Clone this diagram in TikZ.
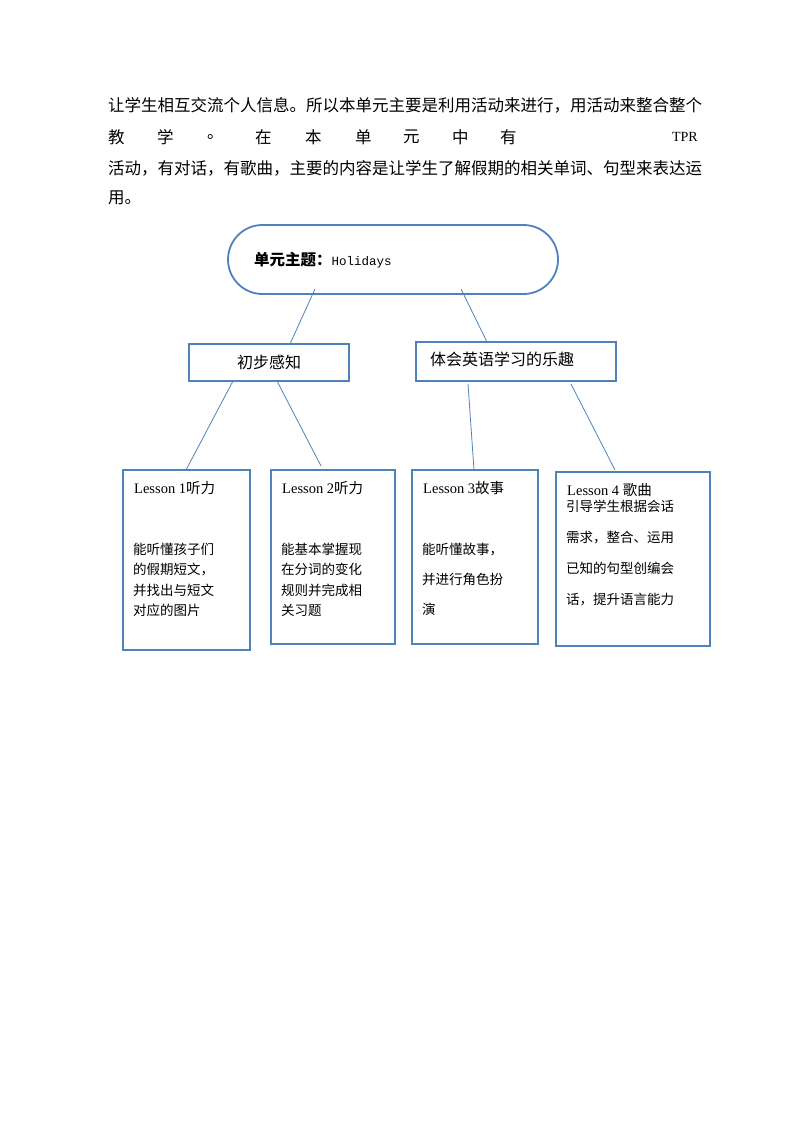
\documentclass[tikz,border=0pt]{standalone}
\usepackage{fontspec}
\setmainfont{Liberation Serif}
\newfontfamily\cjk{Noto Sans CJK SC}
\definecolor{sb}{RGB}{79,129,189}
\begin{document}
\begin{tikzpicture}[x=1pt,y=-1pt,
  bx/.style={draw=sb,line width=1.8pt},
  ln/.style={draw=sb,line width=0.8pt},
  tx/.style={anchor=west,inner sep=0pt,font=\fontsize{16.5}{18}\selectfont\cjk},
  sm/.style={anchor=north west,inner sep=0pt,align=left}]
\useasboundingbox (0,0) rectangle (794,1123);
\node[tx] (p1) at (108,105) {让学生相互交流个人信息。所以本单元主要是利用活动来进行，用活动来整合整个};
\foreach \c/\x [count=\i] in {教/108,学/157,。/207,在/255,本/305,单/355,元/403,中/452,有/500}
  \node[tx] (w\i) at (\x,137) {\c};
\node[anchor=east,inner sep=0pt,font=\fontsize{14}{16}\selectfont] (tpr) at (698,137) {TPR};
\node[tx] (p3) at (108,168) {活动，有对话，有歌曲，主要的内容是让学生了解假期的相关单词、句型来表达运};
\node[tx] (p4) at (108,198) {用。};
\draw[bx,rounded corners=34.5pt] (228,225) rectangle (558,294);
\node[anchor=west,inner sep=0pt] (top) at (254,260) {{\cjk\bfseries\fontsize{15.5}{16}\selectfont 单元主题：}{\fontspec{Liberation Mono}\fontsize{12.5}{14}\selectfont Holidays}};
\node[bx,minimum width=160pt,minimum height=37pt,inner sep=0pt,font=\fontsize{16}{18}\selectfont\cjk] (b1) at (269,362.5) {初步感知};
\node[bx,minimum width=200pt,minimum height=39pt,inner sep=0pt] (b2) at (516,361.5) {};
\node[anchor=west,inner sep=0pt,font=\fontsize{16}{18}\selectfont\cjk] (b2t) at (430,359) {体会英语学习的乐趣};
\draw[bx] (123,470) rectangle (250,650);
\draw[bx] (271,470) rectangle (395,644);
\draw[bx] (412,470) rectangle (538,644);
\draw[bx] (556,472) rectangle (710,646);
\node[anchor=west,inner sep=0pt] (l1) at (134,488) {\fontsize{14.5}{16}\selectfont Lesson 1{\cjk 听力}};
\node[anchor=west,inner sep=0pt] (l2) at (282,488) {\fontsize{14.5}{16}\selectfont Lesson 2{\cjk 听力}};
\node[anchor=west,inner sep=0pt] (l3) at (423,488) {\fontsize{14.5}{16}\selectfont Lesson 3{\cjk 故事}};
\node[anchor=west,inner sep=0pt] (l4) at (567,490) {\fontsize{14.5}{16}\selectfont Lesson 4 {\cjk 歌曲}};
\node[sm,font=\fontsize{13.5}{20.3}\selectfont\cjk] (t1) at (133,543) {能听懂孩子们\\的假期短文，\\并找出与短文\\对应的图片};
\node[sm,font=\fontsize{13.5}{20.3}\selectfont\cjk] (t2) at (281,543) {能基本掌握现\\在分词的变化\\规则并完成相\\关习题};
\node[sm,font=\fontsize{13.5}{30}\selectfont\cjk] (t3) at (422,543) {能听懂故事，\\并进行角色扮\\演};
\node[sm,font=\fontsize{13.5}{31}\selectfont\cjk] (t4) at (566,500) {引导学生根据会话\\需求，整合、运用\\已知的句型创编会\\话，提升语言能力};
\coordinate (a1) at (315,289); \coordinate (a2) at (290,344);
\coordinate (c1) at (461,289); \coordinate (c2) at (487,342);
\coordinate (d1) at (233,381); \coordinate (d2) at (186,470);
\coordinate (e1) at (277,381); \coordinate (e2) at (321,466);
\coordinate (f1) at (468,384); \coordinate (f2) at (474,470);
\coordinate (g1) at (571,384); \coordinate (g2) at (615,470);
\draw[ln] (a1)--(a2); \draw[ln] (c1)--(c2); \draw[ln] (d1)--(d2);
\draw[ln] (e1)--(e2); \draw[ln] (f1)--(f2); \draw[ln] (g1)--(g2);
\end{tikzpicture}
\end{document}
